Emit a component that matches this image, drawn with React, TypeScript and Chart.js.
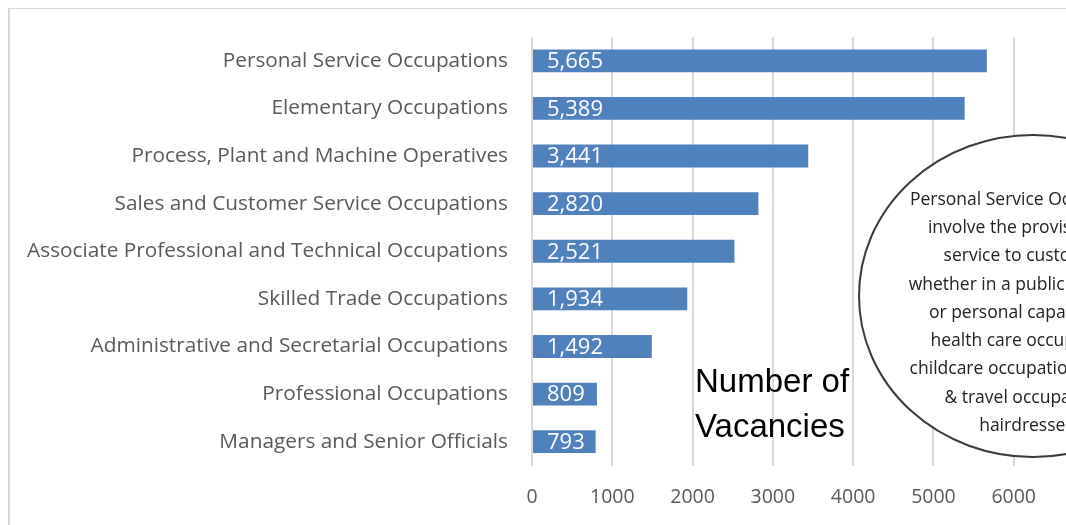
import React, { useEffect, useRef } from "react";
import { Chart, registerables } from "chart.js";

Chart.register(...registerables);

const categories: string[] = [
  "Personal Service Occupations",
  "Elementary Occupations",
  "Process, Plant and Machine Operatives",
  "Sales and Customer Service Occupations",
  "Associate Professional and Technical Occupations",
  "Skilled Trade Occupations",
  "Administrative and Secretarial Occupations",
  "Professional Occupations",
  "Managers and Senior Officials",
];

const vacancies: number[] = [5665, 5389, 3441, 2820, 2521, 1934, 1492, 809, 793];

const axisTitleLines: string[] = ["Number of", "Vacancies"];

const noteLines: string[] = [
  "Personal Service Occupations",
  "involve the provision of a",
  "service to customers,",
  "whether in a public protective",
  "or personal capacity, e.g.",
  "health care occupations,",
  "childcare occupations, leisure",
  "& travel occupations,",
  "hairdressers",
];

const FONT = "'Open Sans', 'Noto Sans', sans-serif";

const overlayPlugin = {
  id: "overlay",
  afterDatasetsDraw(chart: any) {
    const ctx = chart.ctx;
    const meta = chart.getDatasetMeta(0);
    ctx.save();
    ctx.fillStyle = "#ffffff";
    ctx.font = `22px ${FONT}`;
    ctx.textAlign = "left";
    ctx.textBaseline = "middle";
    meta.data.forEach((bar: any, i: number) => {
      const v = vacancies[i];
      ctx.fillText(v.toLocaleString("en-US"), bar.base + 14, bar.y + 1);
    });
    ctx.restore();
  },
  afterDraw(chart: any) {
    const ctx = chart.ctx;
    ctx.save();
    // outer frame (left/top visible)
    ctx.strokeStyle = "#d9d9d9";
    ctx.lineWidth = 2;
    ctx.strokeRect(1, 0, chart.width + 10, chart.height + 10);

    // axis title text
    ctx.fillStyle = "#000000";
    ctx.font = `33px 'Liberation Sans', Arial, sans-serif`;
    ctx.textAlign = "left";
    ctx.textBaseline = "alphabetic";
    axisTitleLines.forEach((t, i) => ctx.fillText(t, 687, 384 + i * 45));

    // ellipse callout
    ctx.beginPath();
    ctx.ellipse(1025, 288, 174, 161, 0, 0, Math.PI * 2);
    ctx.fillStyle = "#ffffff";
    ctx.fill();
    ctx.strokeStyle = "#3a3a3a";
    ctx.lineWidth = 2;
    ctx.stroke();

    ctx.fillStyle = "#222222";
    ctx.font = `17.5px ${FONT}`;
    ctx.textAlign = "center";
    ctx.textBaseline = "middle";
    noteLines.forEach((t, i) => ctx.fillText(t, 1022, 192 + i * 28.25));
    ctx.restore();
  },
};

export default function App() {
  const canvasRef = useRef<HTMLCanvasElement | null>(null);

  useEffect(() => {
    if (!canvasRef.current) return;
    const chart = new Chart(canvasRef.current, {
      type: "bar",
      data: {
        labels: categories,
        datasets: [
          {
            data: vacancies,
            backgroundColor: "#4f81bd",
            borderWidth: 0,
            categoryPercentage: 1,
            barPercentage: 0.48,
          },
        ],
      },
      options: {
        indexAxis: "y",
        animation: false,
        responsive: false,
        maintainAspectRatio: false,
        layout: { padding: { left: 0, top: 29, right: 34, bottom: 22.5 } },
        plugins: {
          legend: { display: false },
          tooltip: { enabled: false },
          title: { display: false },
        },
        scales: {
          x: {
            min: 0,
            max: 7000,
            afterFit: (scale: any) => {
              scale.height = 60;
              scale.paddingLeft = 0;
              scale.paddingRight = 0;
            },
            ticks: {
              stepSize: 1000,
              padding: 20,
              color: "#595959",
              font: { family: FONT, size: 19.5 },
              callback: (v: any) => String(v),
            },
            grid: { color: "#d9d9d9", lineWidth: 2, drawTicks: false },
            border: { display: false },
          },
          y: {
            afterFit: (scale: any) => {
              scale.width = 524;
              scale.paddingTop = 0;
              scale.paddingBottom = 0;
            },
            ticks: {
              padding: 24,
              color: "#595959",
              font: { family: FONT, size: 20.8 },
            },
            grid: { display: false, drawTicks: false },
            border: { display: false },
          },
        },
      },
      plugins: [overlayPlugin],
    });
    return () => chart.destroy();
  }, []);

  return (
    <div style={{ position: "fixed", left: 8, top: 8, right: 0, bottom: 0, overflow: "hidden" }}>
      <canvas ref={canvasRef} width={1120} height={540} style={{ display: "block", width: 1120, height: 540 }} />
    </div>
  );
}
